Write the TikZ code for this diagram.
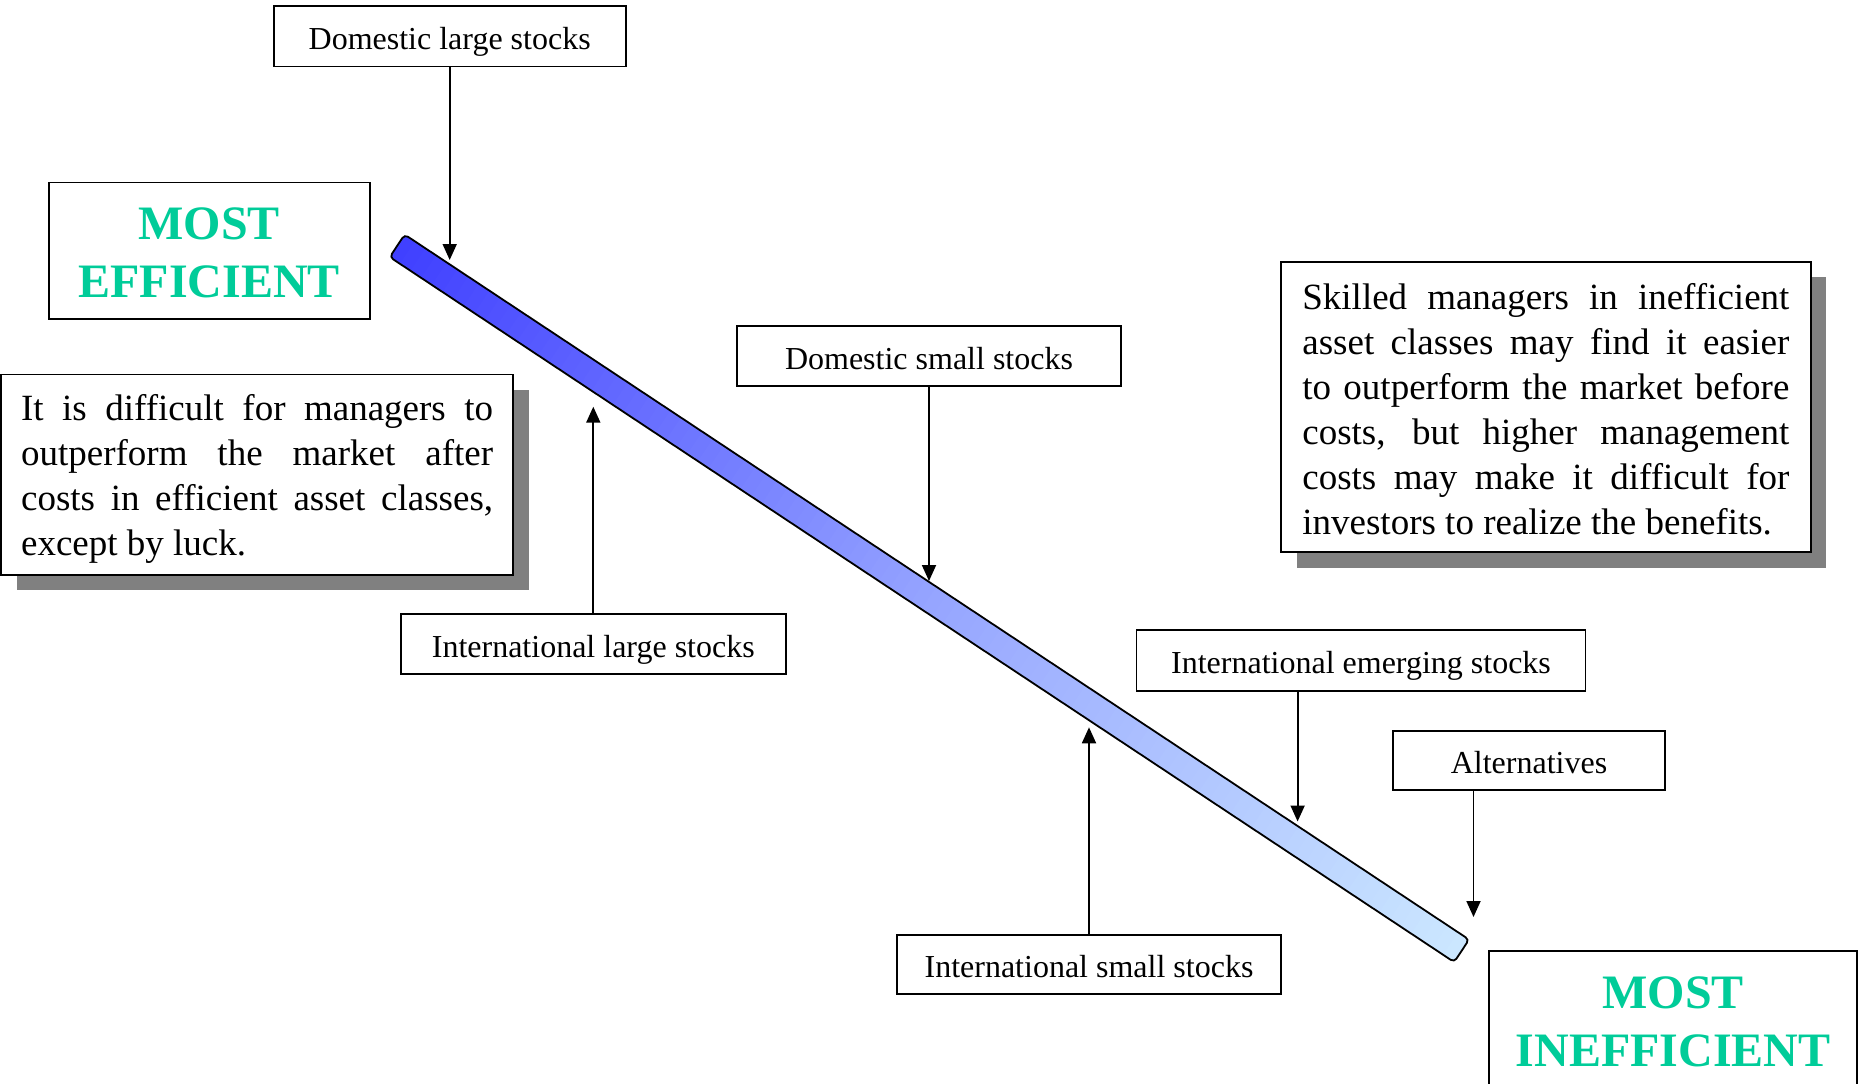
\documentclass[tikz,border=0pt]{standalone}
\usepackage{fontspec}
\setmainfont{Liberation Serif}
\usetikzlibrary{arrows.meta,shadows}
\definecolor{bdark}{RGB}{64,64,255}
\definecolor{bmid}{RGB}{150,165,255}
\definecolor{blight}{RGB}{204,232,255}
\definecolor{effgreen}{RGB}{0,204,153}
\begin{document}
\begin{tikzpicture}[x=1pt,y=-1pt,
  lbl/.style={draw, line width=1.8pt, fill=white, font=\fontsize{32}{38}\selectfont,
    inner sep=0pt, text height=26pt, text depth=0pt},
  note/.style={draw, line width=1.8pt, fill=white, font=\fontsize{37}{45}\selectfont,
    align=justify, inner ysep=0pt,
    execute at begin node={\tolerance=10000\hyphenpenalty=10000\exhyphenpenalty=10000},
    drop shadow={shadow xshift=15.5pt, shadow yshift=-15.5pt, fill=black!50, opacity=1}},
  big/.style={draw, line width=1.8pt, fill=white, font=\fontsize{48}{58}\selectfont\bfseries,
    text=effgreen, align=center, inner sep=0pt},
  arr/.style={line width=1.8pt, -{Triangle[length=16pt,width=14pt]}},
  barline/.style={line width=1.8pt, rounded corners=4pt}]
\useasboundingbox (0,0) rectangle (1858,1084);

% the diagonal bar with its gradient
\begin{scope}[shift={(397.2,245.8)}, rotate=-33.52]
  \begin{scope}
    \clip[rounded corners=4pt] (0,-13.5) rectangle (1276.8,13.5);
    \foreach \i in {0,...,99}{
      \ifnum\i<50
        \pgfmathtruncatemacro\p{2*\i}\colorlet{stripc}{bmid!\p!bdark}
      \else
        \pgfmathtruncatemacro\p{2*\i-100}\colorlet{stripc}{blight!\p!bmid}
      \fi
      \fill[stripc] ({\i*12.768-0.6},-20) rectangle ({(\i+1)*12.768+0.6},20);
    }
  \end{scope}
  \draw[barline] (0,-13.5) rectangle (1276.8,13.5);
\end{scope}

% big labels
\node[big, minimum width=321.1, minimum height=136.3, text height=93.4pt, text depth=0pt] (eff) at (209.2,250.6) {MOST\\EFFICIENT};
\node[big, minimum width=368, minimum height=141, anchor=north] (ineff) at (1673.3,950) {MOST\\INEFFICIENT};

% notes
\node[note, text width=472, inner xsep=19.9, minimum height=200.2, text height=25pt, text depth=133.2pt] (left) at (257.1,474.6)
  {It is difficult for managers to\linebreak outperform the market after\linebreak costs in efficient asset classes,\linebreak except by luck.};
\node[note, text width=487, inner xsep=21.35, minimum height=290.3, text height=25pt, text depth=219.9pt] (right) at (1545.85,407.05)
  {Skilled managers in inefficient\linebreak asset classes may find it easier\linebreak to outperform the market before\linebreak costs, but higher management\linebreak costs may make it difficult for\linebreak investors to realize the benefits.};

% asset class labels
\node[lbl, minimum width=352, minimum height=60.5] (dl) at (449.7,36.2) {Domestic large stocks};
\node[lbl, minimum width=384, minimum height=60.4] (ds) at (929,356.1) {Domestic small stocks};
\node[lbl, minimum width=385.3, minimum height=60] (il) at (593.3,644) {International large stocks};
\node[lbl, minimum width=449, minimum height=60.5] (em) at (1361,660.6) {International emerging stocks};
\node[lbl, minimum width=272, minimum height=59.3] (alt) at (1529,760.4) {Alternatives};
\node[lbl, minimum width=384, minimum height=59] (is) at (1089,964.5) {International small stocks};

% arrow tips
\coordinate (tdl) at (449.7,260);
\coordinate (tds) at (929,581);
\coordinate (til) at (593.3,406.7);
\coordinate (tem) at (1297.6,821.5);
\coordinate (talt) at (1473.5,917);
\coordinate (tis) at (1089,727.3);

\draw[arr] (dl.south) -- (tdl);
\draw[arr] (ds.south) -- (tds);
\draw[arr] (il.north) -- (til);
\draw[arr] (em.south -| tem) -- (tem);
\draw[arr] (alt.south -| talt) -- (talt);
\draw[arr] (is.north) -- (tis);
\end{tikzpicture}
\end{document}
